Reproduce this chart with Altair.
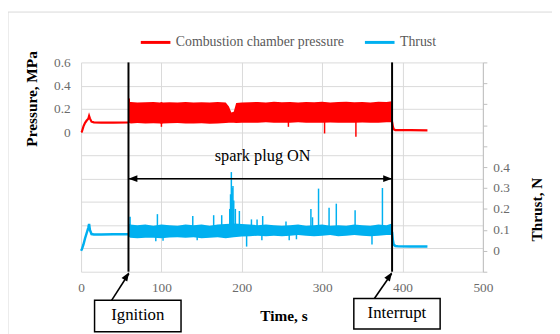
import altair as alt
import pandas as pd

SERIF = "Liberation Serif"
GRID = "#d9d9d9"
LAB = "#6b6b6b"
SERIES = ["Combustion chamber pressure", "Thrust"]
COLORS = ["#ff0000", "#00b0f0"]

# ---------------- axes ticks ----------------
x_ticks = [0, 100, 200, 300, 400, 500]
p_ticks = [-1.2, -1.0, -0.8, -0.6, -0.4, -0.2, 0.0, 0.2, 0.4, 0.6]
t_ticks = [-0.1, 0.0, 0.1, 0.2, 0.3, 0.4, 0.5, 0.6, 0.7, 0.8, 0.9]

# ---------------- pressure (MPa) ----------------
p_pre_t = [0, 1, 3, 5, 7, 9, 10, 11, 13, 16, 25, 40, 59]
p_pre_v = [0.0, 0.004, 0.05, 0.08, 0.1, 0.115, 0.139, 0.118, 0.09, 0.084, 0.082, 0.082, 0.083]
p_post_t = [387, 388, 389, 391, 395, 410, 431]
p_post_v = [0.09, 0.05, 0.025, 0.018, 0.017, 0.017, 0.016]
# envelope of the oscillating pressure while the spark plug is on
p_band_t = [59, 62, 70, 80, 90, 98, 100, 102, 110, 120, 130, 140, 150, 160, 170, 180, 184, 187,
            190, 193, 200, 210, 220, 230, 240, 250, 260, 270, 280, 290, 300, 310, 320, 330,
            340, 350, 360, 370, 380, 387]
p_band_hi = [0.26, 0.26, 0.255, 0.258, 0.26, 0.255, 0.26, 0.255, 0.258, 0.255, 0.26, 0.255, 0.258,
             0.255, 0.26, 0.255, 0.22, 0.17, 0.175, 0.25, 0.255, 0.258, 0.26, 0.255, 0.262, 0.258,
             0.26, 0.255, 0.26, 0.258, 0.262, 0.255, 0.26, 0.262, 0.258, 0.26, 0.255, 0.262, 0.26, 0.265]
p_band_lo = [0.082, 0.075, 0.078, 0.074, 0.076, 0.075, 0.07, 0.075, 0.076, 0.078, 0.075, 0.074,
             0.076, 0.072, 0.075, 0.078, 0.08, 0.082, 0.08, 0.078, 0.08, 0.082, 0.08, 0.085, 0.082,
             0.08, 0.082, 0.085, 0.08, 0.082, 0.08, 0.083, 0.08, 0.082, 0.08, 0.083, 0.08, 0.082,
             0.085, 0.085]
p_spike_t = [60, 100, 258, 303, 342]
p_spike_base = [0.2, 0.15, 0.15, 0.15, 0.15]
p_spike_v = [0.29, 0.046, 0.046, -0.011, -0.039]

# ---------------- thrust (N) ----------------
t_pre_t = [0, 1, 3, 5, 7, 9, 10, 11, 13, 16, 25, 40, 59]
t_pre_v = [0.0, 0.007, 0.03, 0.06, 0.085, 0.11, 0.128, 0.1, 0.08, 0.078, 0.078, 0.079, 0.079]
t_post_t = [387, 388, 389, 391, 395, 410, 420, 431]
t_post_v = [0.09, 0.05, 0.03, 0.023, 0.021, 0.02, 0.021, 0.02]
t_band_t = [59, 61, 70, 80, 90, 100, 110, 120, 130, 140, 150, 160, 170, 180, 190, 200, 210, 220,
            230, 240, 250, 260, 270, 280, 290, 300, 310, 320, 330, 340, 350, 360, 370, 380, 387]
t_band_hi = [0.13, 0.125, 0.122, 0.125, 0.12, 0.125, 0.122, 0.12, 0.125, 0.122, 0.125, 0.12, 0.125,
             0.128, 0.13, 0.128, 0.125, 0.122, 0.125, 0.122, 0.12, 0.122, 0.125, 0.12, 0.122, 0.125,
             0.12, 0.122, 0.12, 0.125, 0.122, 0.12, 0.125, 0.122, 0.13]
t_band_lo = [0.07, 0.062, 0.06, 0.062, 0.062, 0.06, 0.063, 0.065, 0.062, 0.065, 0.06, 0.062, 0.065,
             0.06, 0.065, 0.068, 0.07, 0.072, 0.07, 0.072, 0.07, 0.072, 0.075, 0.072, 0.07, 0.072,
             0.075, 0.07, 0.072, 0.075, 0.072, 0.07, 0.072, 0.075, 0.075]
t_spike_t = [61, 95, 139, 165, 175, 185, 186, 187, 188, 189, 190, 192, 197, 212, 219, 226, 255,
             286, 288, 295.5, 308.6, 317.6, 341, 375]
t_spike_v = [0.163, 0.175, 0.166, 0.17, 0.17, 0.2, 0.27, 0.376, 0.3, 0.31, 0.24, 0.2, 0.19, 0.15,
             0.15, 0.166, 0.14, 0.2, 0.16, 0.297, 0.205, 0.225, 0.194, 0.30]
t_dip_t = [93, 102, 144.5, 206, 225, 259, 268, 362]
t_dip_v = [0.046, 0.048, 0.05, 0.02, 0.05, 0.05, 0.055, 0.03]

# ---------------- annotations ----------------
event_t = [59, 387]
note_text, note_t, note_y = ["spark plug ON"], [226], [-0.209]
box_label = ["Ignition", "Interrupt"]
box_t0 = [16.8, 339.4]
box_t1 = [124.4, 446.8]
box_ytop = [-1.446, -1.431]
box_ybot = [-1.716, -1.692]
box_tc = [70.6, 393.0]
box_yc = [-1.573, -1.559]
shaft_t0 = [59, 38, 365]
shaft_t1 = [387, 59.5, 386.5]
shaft_y0 = [-0.4, -1.446, -1.431]
shaft_y1 = [-0.4, -1.215, -1.215]
head_t = [59, 387, 59.8, 387]
head_y = [-0.4, -0.4, -1.205, -1.205]
head_ang = [270, 90, 32, 34]

# ---------------- frames ----------------
line_df = pd.DataFrame({
    "t": p_pre_t + p_post_t + t_pre_t + t_post_t,
    "v": p_pre_v + p_post_v + t_pre_v + t_post_v,
    "seg": ["a"] * len(p_pre_t) + ["b"] * len(p_post_t) + ["a"] * len(t_pre_t) + ["b"] * len(t_post_t),
    "series": [SERIES[0]] * (len(p_pre_t) + len(p_post_t)) + [SERIES[1]] * (len(t_pre_t) + len(t_post_t)),
})
p_line = line_df[line_df.series == SERIES[0]]
t_line = line_df[line_df.series == SERIES[1]]
p_band = pd.DataFrame({"t": p_band_t, "lo": p_band_lo, "hi": p_band_hi})
t_band = pd.DataFrame({"t": t_band_t, "lo": t_band_lo, "hi": t_band_hi})
p_spk = pd.DataFrame({"t": p_spike_t, "b": p_spike_base, "v": p_spike_v})
t_spk = pd.DataFrame({"t": t_spike_t + t_dip_t,
                      "b": [0.1] * len(t_spike_t) + [0.09] * len(t_dip_t),
                      "v": t_spike_v + t_dip_v})

# ---------------- scales / axes ----------------
xs = alt.Scale(domain=[0, 500], nice=False, zero=False)
ps = alt.Scale(domain=[-1.2, 0.6], nice=False, zero=False)
ts = alt.Scale(domain=[-0.1, 0.9], nice=False, zero=False)

axisX = alt.Axis(values=x_ticks, grid=True, gridColor=GRID, domain=False, ticks=False, tickSize=0,
                 labelPadding=9, labelFontSize=13.5, labelColor=LAB, labelFont=SERIF, labelFlush=False,
                 title="Time, s", titleFont=SERIF, titleFontSize=15.5, titleFontWeight="bold",
                 titleColor="black", titleX=205, titleY=44, titleAlign="center", titleBaseline="middle")
axisP = alt.Axis(values=p_ticks, grid=True, gridColor=GRID, domain=False, ticks=False, tickSize=0,
                 labelExpr="datum.value >= -0.001 ? format(datum.value, '.1~f') : ''",
                 labelPadding=11, labelFontSize=13.5, labelColor=LAB, labelFont=SERIF, labelFlush=False,
                 title="Pressure, MPa", titleFont=SERIF, titleFontSize=15.5, titleFontWeight="bold",
                 titleColor="black", titleAngle=270, titleX=-50, titleY=36.5, titleAlign="center",
                 titleBaseline="middle", orient="left")
axisT = alt.Axis(values=t_ticks, grid=False, domain=True, domainColor="#bfbfbf", ticks=True,
                 tickColor="#bfbfbf", tickSize=4,
                 labelExpr="datum.value >= -0.001 && datum.value <= 0.401 ? format(datum.value, '.1~f') : ''",
                 labelPadding=6, labelFontSize=13.5, labelColor=LAB, labelFont=SERIF, labelFlush=False,
                 title="Thrust, N", titleFont=SERIF, titleFontSize=15.5, titleFontWeight="bold",
                 titleColor="black", titleAngle=270, titleX=54, titleY=148.5, titleAlign="center",
                 titleBaseline="middle", orient="right")

legend = alt.Legend(title=None, orient="none", legendX=59, legendY=-37, direction="horizontal",
                    symbolType="stroke", symbolSize=900, symbolStrokeWidth=3, labelFont=SERIF,
                    labelFontSize=14, labelColor="#595959", labelOffset=4, columnPadding=14,
                    labelLimit=400)
color = alt.Color("series:N", scale=alt.Scale(domain=SERIES, range=COLORS), legend=legend)

X = lambda f="t": alt.X(f"{f}:Q", scale=xs, axis=axisX)
YP = lambda f: alt.Y(f"{f}:Q", scale=ps, axis=axisP, title="Pressure, MPa")
YT = lambda f: alt.Y(f"{f}:Q", scale=ts, axis=axisT, title="Thrust, N")
YA = lambda f: alt.Y(f"{f}:Q", scale=ps, axis=None)

# ---------------- pressure group ----------------
pressure = alt.layer(
    alt.Chart(p_band).mark_area(color=COLORS[0], opacity=1).encode(x=X(), y=YP("lo"), y2="hi"),
    alt.Chart(p_spk).mark_rule(color=COLORS[0], strokeWidth=1.5).encode(x=X(), y=YP("b"), y2="v"),
    alt.Chart(p_line).mark_line(strokeWidth=2.2).encode(x=X(), y=YP("v"), detail="seg:N", color=color),
)

# ---------------- thrust group ----------------
thrust = alt.layer(
    alt.Chart(t_band).mark_area(color=COLORS[1], opacity=1).encode(x=X(), y=YT("lo"), y2="hi"),
    alt.Chart(t_spk).mark_rule(color=COLORS[1], strokeWidth=1.5).encode(x=X(), y=YT("b"), y2="v"),
    alt.Chart(t_line).mark_line(strokeWidth=2.5).encode(x=X(), y=YT("v"), detail="seg:N", color=color),
)

# ---------------- annotation group ----------------
ev = pd.DataFrame({"t": event_t})
shafts = pd.DataFrame({"t0": shaft_t0, "t1": shaft_t1, "y0": shaft_y0, "y1": shaft_y1})
heads = pd.DataFrame({"t": head_t, "y": head_y, "ang": head_ang})
notes = pd.DataFrame({"label": note_text, "t": note_t, "y": note_y})
boxes = pd.DataFrame({"label": box_label, "t0": box_t0, "t1": box_t1, "y0": box_ytop, "y1": box_ybot,
                      "tc": box_tc, "yc": box_yc})
frame = pd.DataFrame({"k": [0]})

ann = alt.layer(
    alt.Chart(frame).mark_rect(fillOpacity=0, stroke=GRID, strokeWidth=1).encode(
        x=alt.value(-74), x2=alt.value(600), y=alt.value(-51), y2=alt.value(600)),
    alt.Chart(ev).mark_rule(color="black", strokeWidth=2).encode(
        x=X(), y=alt.value(0), y2=alt.value(212)),
    alt.Chart(shafts).mark_rule(color="black", strokeWidth=1.6).encode(
        x=X("t0"), x2="t1", y=YA("y0"), y2="y1"),
    alt.Chart(heads).mark_point(shape="M0,0L-0.75,2L0.75,2Z", filled=True, opacity=1,
                                color="black", size=81).encode(
        x=X(), y=YA("y"), angle=alt.Angle("ang:Q", scale=None)),
    alt.Chart(notes).mark_text(font=SERIF, fontSize=16.5, color="black", baseline="middle").encode(
        x=X(), y=YA("y"), text="label:N"),
    alt.Chart(boxes).mark_rect(fill="white", stroke="black", strokeWidth=1.5).encode(
        x=X("t0"), x2="t1", y=YA("y0"), y2="y1"),
    alt.Chart(boxes).mark_text(font=SERIF, fontSize=17, color="black", baseline="middle").encode(
        x=X("tc"), y=YA("yc"), text="label:N"),
)

chart = alt.layer(pressure, thrust, ann).resolve_scale(y="independent").properties(
    width=407, height=212,
    padding={"left": 74, "top": 53, "right": 70, "bottom": 62},
    autosize=alt.AutoSizeParams(type="none"),
).configure_view(stroke=None)

chart.save("out.html", embed_options={"renderer": "svg", "actions": False})
